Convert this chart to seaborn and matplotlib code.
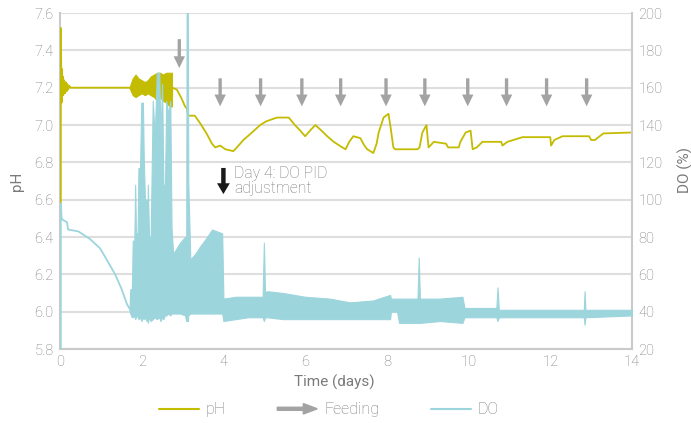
import numpy as np
import matplotlib
matplotlib.use("Agg")
import matplotlib.pyplot as plt
import matplotlib.patches as mpatches
from matplotlib.lines import Line2D
from matplotlib.legend_handler import HandlerPatch
from matplotlib import font_manager
import seaborn as sns

# ---------------- data ----------------
# pH: initial segment (day 0 .. 1.7)
ph_line1_days = [0.02, 0.02, 0.03, 0.04, 0.05, 0.06, 0.07, 0.08, 0.10, 0.12, 0.14, 0.16, 0.18, 0.20, 0.23, 0.26, 1.70]
ph_line1_vals = [6.58, 7.52, 7.33, 7.12, 7.30, 7.16, 7.26, 7.16, 7.24, 7.17, 7.23, 7.18, 7.22, 7.19, 7.21, 7.20, 7.20]
# pH: noisy band (day 1.7 .. 2.74)
ph_band_days  = [1.70, 1.78, 1.85, 1.92, 2.00, 2.08, 2.15, 2.22, 2.30, 2.38, 2.45, 2.52, 2.60, 2.68, 2.74]
ph_band_upper = [7.20, 7.25, 7.27, 7.25, 7.24, 7.23, 7.24, 7.26, 7.27, 7.28, 7.28, 7.27, 7.28, 7.28, 7.28]
ph_band_lower = [7.20, 7.16, 7.15, 7.16, 7.17, 7.16, 7.17, 7.16, 7.15, 7.13, 7.15, 7.13, 7.12, 7.10, 7.10]
# pH: after feeding starts
ph_line2_days = [2.74, 2.75, 2.86, 2.98, 3.06, 3.10, 3.14, 3.30, 3.43, 3.60,
                 3.72, 3.80, 3.92, 4.05, 4.24, 4.33, 4.49, 4.70, 4.90, 5.05,
                 5.31, 5.60, 5.75, 5.88, 6.00, 6.12, 6.25, 6.40, 6.54, 6.70,
                 6.91, 6.99, 7.08, 7.18, 7.35, 7.45, 7.52, 7.67, 7.75, 7.80,
                 7.92, 8.04, 8.09, 8.16, 8.20, 8.75, 8.80, 8.87, 8.97, 9.02,
                 9.15, 9.45, 9.50, 9.76, 9.80, 9.93, 10.05, 10.10, 10.20, 10.34,
                 10.80, 10.83, 10.95, 11.10, 11.32, 12.00, 12.02, 12.10, 12.30, 12.95,
                 13.00, 13.10, 13.15, 13.30, 14.00]
ph_line2_vals = [7.10, 7.20, 7.19, 7.14, 7.10, 7.09, 7.05, 7.05, 7.01, 6.95,
                 6.90, 6.88, 6.89, 6.87, 6.86, 6.88, 6.92, 6.96, 7.00, 7.02,
                 7.04, 7.04, 7.00, 6.97, 6.94, 6.97, 7.00, 6.97, 6.94, 6.91,
                 6.88, 6.87, 6.91, 6.94, 6.93, 6.89, 6.87, 6.85, 6.90, 6.96,
                 7.04, 7.06, 6.99, 6.88, 6.87, 6.87, 6.88, 6.96, 7.00, 6.88,
                 6.91, 6.90, 6.88, 6.88, 6.91, 6.96, 6.97, 6.87, 6.88, 6.91,
                 6.91, 6.89, 6.91, 6.92, 6.935, 6.935, 6.89, 6.92, 6.94, 6.94,
                 6.92, 6.92, 6.93, 6.955, 6.96]

# DO: smooth decline (day 0 .. 1.72)
do_line_days = [0.02, 0.02, 0.04, 0.08, 0.17, 0.20, 0.45, 0.73, 0.98, 1.14, 1.35, 1.51, 1.64, 1.72]
do_line_vals = [20, 98, 90, 89, 88, 84, 83, 79, 74, 68, 60, 52, 44, 41]
# DO: noisy band envelope (day 1.7 .. 14)
do_band_days = [1.70, 1.72, 1.76, 1.78, 1.82, 1.84, 1.86, 1.90, 1.92, 1.96,
                1.99, 2.03, 2.05, 2.08, 2.12, 2.13, 2.15, 2.18, 2.22, 2.27,
                2.32, 2.37, 2.43, 2.46, 2.50, 2.53, 2.57, 2.60, 2.65, 2.70,
                2.73, 2.77, 2.94, 3.06, 3.09, 3.10, 3.13, 3.14, 3.19, 3.31,
                3.43, 3.60, 3.72, 3.97, 4.00, 4.30, 4.60, 4.96, 4.99, 5.02,
                5.07, 5.46, 6.00, 6.60, 7.10, 7.66, 8.08, 8.10, 8.25, 8.30,
                8.75, 8.78, 8.81, 9.30, 9.85, 9.90, 10.68, 10.71, 10.74, 11.50,
                12.82, 12.84, 12.86, 14.00]
do_band_upper = [41, 52, 52, 78, 78, 108, 82, 82, 117, 117,
                 152, 152, 123, 100, 100, 53, 108, 80, 80, 153,
                 134, 168, 168, 134, 162, 108, 108, 153, 146, 153,
                 85, 71, 77, 80, 80, 200, 200, 109, 68, 71,
                 75, 80, 84, 82, 47, 48, 48, 48, 77, 50,
                 51, 50, 48, 47, 45, 46, 49, 47, 47, 47,
                 47, 69, 47, 47, 48, 42, 42, 53, 41, 41,
                 41, 51, 41, 41]
do_band_lower = [41, 39, 37, 37, 38, 36, 37, 38, 36, 37,
                 35, 37, 36, 37, 35, 37, 34, 37, 35, 36,
                 37, 36, 37, 35, 37, 36, 38, 38, 39, 38,
                 39, 39, 39, 38, 35, 35, 35, 38, 39, 39,
                 39, 39, 39, 39, 35, 36, 37, 37, 35, 37,
                 37, 36, 36, 36, 36, 36, 36, 40, 40, 34,
                 34, 34, 34, 35, 34, 37, 37, 35, 37, 37,
                 37, 33, 37, 38]

# Feeding arrows (day, pH of arrow top, pH of arrow tip)
feed_days = [2.92, 3.92, 4.91, 5.92, 6.87, 7.98, 8.93, 9.98, 10.93, 11.91, 12.89]
feed_top  = [7.46, 7.25, 7.25, 7.25, 7.25, 7.25, 7.25, 7.25, 7.25, 7.25, 7.25]
feed_tip  = [7.305, 7.10, 7.10, 7.10, 7.10, 7.10, 7.10, 7.10, 7.10, 7.10, 7.10]
# PID adjustment marker
pid_day, pid_top, pid_tip = 4.0, 6.77, 6.63
pid_text = "Day 4: DO PID\nadjustment"

x_ticks = [0, 2, 4, 6, 8, 10, 12, 14]
ph_ticks = [5.8, 6.0, 6.2, 6.4, 6.6, 6.8, 7.0, 7.2, 7.4, 7.6]
do_ticks = [20, 40, 60, 80, 100, 120, 140, 160, 180, 200]

# ---------------- style ----------------
PH_C = "#c4bc00"
DO_C = "#9dd5dd"
ARROW_C = "#a3a3a3"
TXT = "#7a7a7a"
GRID_C = "#dedede"
SPINE_C = "#cacaca"

sns.set_style("white")


def pick_font():
    for fam in ["Roboto", "Lato", "Open Sans", "Inter"]:
        for f in font_manager.fontManager.ttflist:
            if f.name == fam and str(f.weight) in ("300", "light"):
                return fam, "light"
    return "Liberation Sans", "normal"


FAM, WEIGHT = pick_font()
plt.rcParams["font.family"] = [FAM, "DejaVu Sans"]
plt.rcParams["font.weight"] = WEIGHT

fig = plt.figure(figsize=(6.91, 4.23), dpi=100)
ax = fig.add_axes([0.0868, 0.1749, 0.8278, 0.7943])
ax2 = ax.twinx()

# pH
sns.lineplot(x=ph_line1_days, y=ph_line1_vals, ax=ax, sort=False, estimator=None,
             color=PH_C, linewidth=1.3, zorder=3)
ax.fill_between(ph_band_days, ph_band_lower, ph_band_upper, color=PH_C, lw=0.8, zorder=3)
sns.lineplot(x=ph_line2_days, y=ph_line2_vals, ax=ax, sort=False, estimator=None,
             color=PH_C, linewidth=1.3, zorder=3)

# DO
sns.lineplot(x=do_line_days, y=do_line_vals, ax=ax2, sort=False, estimator=None,
             color=DO_C, linewidth=1.3, zorder=3)
ax2.fill_between(do_band_days, do_band_lower, do_band_upper, color=DO_C, lw=0.8, zorder=3)

# arrows
for d, t0, t1 in zip(feed_days, feed_top, feed_tip):
    ax.annotate("", xy=(d, t1), xytext=(d, t0),
                arrowprops=dict(arrowstyle="simple,head_length=0.85,head_width=0.82,tail_width=0.24",
                                color=ARROW_C, shrinkA=0, shrinkB=0, mutation_scale=10, lw=0))
ax.annotate("", xy=(pid_day, pid_tip), xytext=(pid_day, pid_top),
            arrowprops=dict(arrowstyle="simple,head_length=0.78,head_width=0.92,tail_width=0.32",
                            color="#1a1a1a", shrinkA=0, shrinkB=0, mutation_scale=10, lw=0))
ax.text(pid_day + 0.26, 6.70, pid_text, ha="left", va="center", fontsize=11.3,
        color=TXT, linespacing=1.0)

# axes
ax.set_xlim(0, 14)
ax.set_ylim(5.8, 7.6)
ax2.set_ylim(20, 200)
ax.set_xticks(x_ticks)
ax.set_xticklabels([str(v) for v in x_ticks])
ax.set_yticks(ph_ticks)
ax.set_yticklabels([f"{v:.1f}" for v in ph_ticks])
ax2.set_yticks(do_ticks)
ax2.set_yticklabels([str(v) for v in do_ticks])

ax.grid(False)
ax2.grid(False)
ax.yaxis.grid(True, color=GRID_C, lw=1.5)
ax.set_axisbelow(True)

for a in (ax, ax2):
    a.tick_params(length=0, labelsize=10.5, labelcolor=TXT, pad=4.5)
    for s in a.spines.values():
        s.set_visible(False)
ax.spines["left"].set_visible(True)
ax.spines["bottom"].set_visible(True)
ax2.spines["right"].set_visible(True)
for s in (ax.spines["left"], ax.spines["bottom"], ax2.spines["right"]):
    s.set_color(SPINE_C)
    s.set_linewidth(1.5)

ax.set_xlabel("Time (days)", fontsize=11, color=TXT)
ax.xaxis.set_label_coords(0.479, -0.077)
ax.set_ylabel("pH", fontsize=11, color=TXT)
ax.yaxis.set_label_coords(-0.063, 0.5)
ax2.set_ylabel("DO (%)", fontsize=11, color=TXT)
ax2.yaxis.set_label_coords(1.079, 0.533)


# legend
def make_arrow(legend, orig_handle, xdescent, ydescent, width, height, fontsize):
    return mpatches.FancyArrow(-xdescent, height / 2 - ydescent, width, 0,
                               width=2.2, head_width=7.5, head_length=10,
                               length_includes_head=True, color=ARROW_C, lw=0)


arrow_handle = mpatches.Patch(color=ARROW_C)
handles = [Line2D([], [], color=PH_C, lw=1.5), arrow_handle, Line2D([], [], color=DO_C, lw=1.5)]
fig.legend(handles, ["pH", "Feeding", "DO"], loc="center", bbox_to_anchor=(0.476, 0.031),
           ncol=3, frameon=False, fontsize=11.5, handlelength=2.5, handletextpad=0.45,
           columnspacing=3.2, labelcolor=TXT,
           handler_map={arrow_handle: HandlerPatch(patch_func=make_arrow)})

fig.savefig("out.png", dpi=100)
